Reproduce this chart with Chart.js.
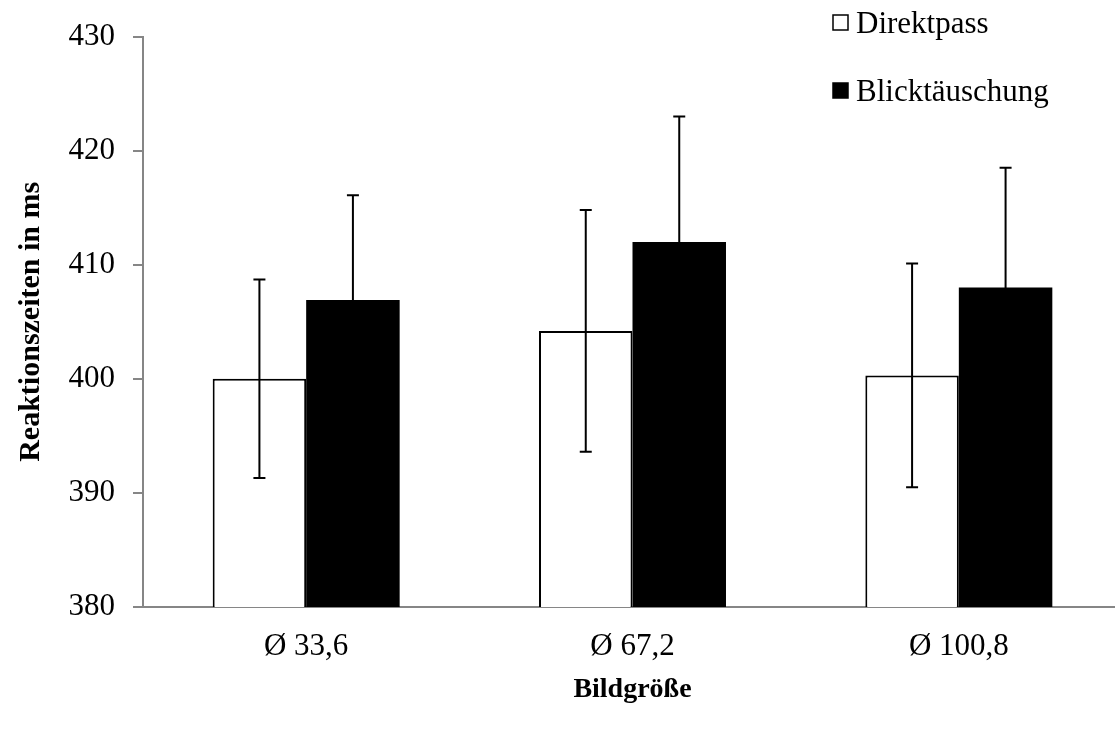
<!DOCTYPE html>
<html>
<head>
<meta charset="utf-8">
<script src="https://cdn.jsdelivr.net/npm/chart.js@4.4.1/dist/chart.umd.min.js"></script>
<style>
  body { margin: 0; background: #fff; overflow: hidden; }
</style>
</head>
<body>
<canvas id="rt-chart" width="1115" height="731"></canvas>
<script>
// data
const categories = ["Ø 33,6", "Ø 67,2", "Ø 100,8"];
const direktValues = [400.0, 404.2, 400.3];
const direktErrors = [8.7, 10.6, 9.8];
const blickValues = [406.9, 412.0, 408.0];
const blickErrors = [9.2, 11.0, 10.5];
const yTicks = [380, 390, 400, 410, 420, 430];

const serif = "'Liberation Serif', 'Times New Roman', serif";

// the original plot area runs a few px past the right edge of the image
const widenPlot = {
  id: "widenPlot",
  afterLayout(chart) {
    const x = chart.scales.x;
    x.right = 1122;
    x.width = x.right - x.left;
    x.configure();
    chart.chartArea.right = 1122;
    chart.chartArea.width = 1122 - chart.chartArea.left;
  }
};

// whiskers on top of the bars
const errorBars = {
  id: "errorBars",
  afterDatasetsDraw(chart) {
    const ctx = chart.ctx;
    const y = chart.scales.y;
    ctx.save();
    ctx.strokeStyle = "#000";
    ctx.lineWidth = 2;
    chart.data.datasets.forEach((ds, i) => {
      const meta = chart.getDatasetMeta(i);
      meta.data.forEach((bar, j) => {
        const v = ds.data[j], e = ds.errors[j];
        const top = y.getPixelForValue(v + e);
        const bot = y.getPixelForValue(v - e);
        ctx.beginPath();
        ctx.moveTo(bar.x, top); ctx.lineTo(bar.x, bot);
        ctx.moveTo(bar.x - 6, top); ctx.lineTo(bar.x + 6, top);
        ctx.moveTo(bar.x - 6, bot); ctx.lineTo(bar.x + 6, bot);
        ctx.stroke();
      });
    });
    ctx.restore();
  }
};

// legend stacked in the top right corner
const cornerLegend = {
  id: "cornerLegend",
  afterDraw(chart) {
    const ctx = chart.ctx;
    ctx.save();
    ctx.font = "31px " + serif;
    ctx.textBaseline = "middle";
    chart.data.datasets.forEach((ds, i) => {
      const by = 15 + i * 68;
      ctx.fillStyle = ds.backgroundColor;
      ctx.fillRect(833, by, 15, 15);
      ctx.strokeStyle = "#000";
      ctx.lineWidth = 1.5;
      ctx.strokeRect(833, by, 15, 15);
      ctx.fillStyle = "#000";
      ctx.fillText(ds.label, 856, by + 10);
    });
    ctx.restore();
  }
};

new Chart("rt-chart", {
  type: "bar",
  data: {
    labels: categories,
    datasets: [{
      label: "Direktpass",
      data: direktValues,
      errors: direktErrors,
      backgroundColor: "#ffffff",
      borderColor: "#000000",
      borderWidth: 2
    }, {
      label: "Blicktäuschung",
      data: blickValues,
      errors: blickErrors,
      backgroundColor: "#000000",
      borderColor: "#000000",
      borderWidth: 0
    }]
  },
  options: {
    responsive: false,
    animation: false,
    layout: { padding: { top: 33, right: 0, left: 0, bottom: 0 } },
    datasets: { bar: { barPercentage: 1, categoryPercentage: 0.573 } },
    plugins: {
      legend: { display: false },
      tooltip: { enabled: false }
    },
    scales: {
      x: {
        afterFit(scale) { scale.height = 124; },
        grid: { display: false },
        border: { color: "#868686", width: 2 },
        ticks: { color: "#000", padding: 13, font: { family: serif, size: 31 } },
        title: {
          display: true,
          text: "Bildgröße",
          color: "#000",
          padding: { top: 0, bottom: 24 },
          font: { family: serif, size: 28, weight: "bold" }
        }
      },
      y: {
        min: 380,
        max: 430,
        afterFit(scale) { scale.width = 143; },
        afterBuildTicks(scale) { scale.ticks = yTicks.map(v => ({ value: v })); },
        grid: { drawOnChartArea: false, tickLength: 10, color: "#868686", lineWidth: 2 },
        border: { color: "#868686", width: 2 },
        ticks: { color: "#000", padding: 18, font: { family: serif, size: 31 } },
        title: {
          display: true,
          text: "Reaktionszeiten in ms",
          color: "#000",
          padding: { top: 13, bottom: 0 },
          font: { family: serif, size: 30, weight: "bold" }
        }
      }
    }
  },
  plugins: [widenPlot, errorBars, cornerLegend]
});
</script>
</body>
</html>
